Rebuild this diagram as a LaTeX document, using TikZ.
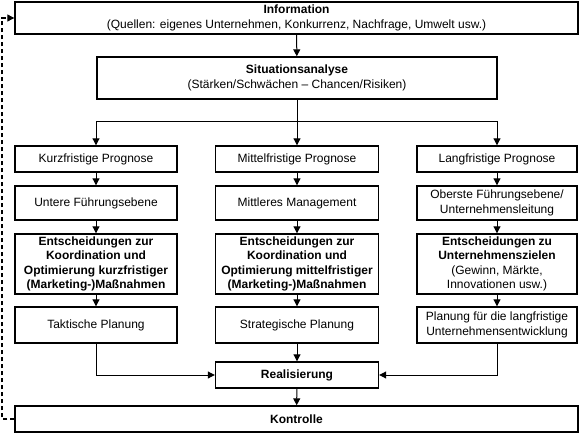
\documentclass[tikz,border=0pt]{standalone}
\usepackage{fontspec}
\setmainfont{Liberation Sans}
\usetikzlibrary{arrows.meta}
\tikzset{
  box/.style={draw, line width=1.4pt, inner sep=0pt, align=center,
    font=\fontsize{12}{14.5}\selectfont},
  conn/.style={line width=1pt, -{Triangle[length=7pt,width=7pt]}},
  plain/.style={line width=1pt},
  feedback/.style={line width=1.2pt, dash pattern=on 4pt off 3pt, -{Triangle[length=7pt,width=7pt]}}
}
\begin{document}
\begin{tikzpicture}[x=1pt,y=-1pt]
\useasboundingbox (0,0) rectangle (581,433);
\node[box, minimum width=563pt, minimum height=32pt] (info) at (296.5,18)
  {\textbf{Information}\\(Quellen: eigenes Unternehmen, Konkurrenz, Nachfrage, Umwelt usw.)};
\node[box, minimum width=400pt, minimum height=42pt] (situ) at (297,78)
  {\textbf{Situationsanalyse}\\(Stärken/Schwächen -- Chancen/Risiken)};
\coordinate (br) at (297,122);
% left column
\node[box, minimum width=162pt, minimum height=26pt] (k1) at (96,159) {Kurzfristige Prognose};
\node[box, minimum width=162pt, minimum height=34pt] (k2) at (96,203) {Untere Führungsebene};
\node[box, minimum width=162pt, minimum height=60pt] (k3) at (96,264)
  {\textbf{Entscheidungen zur}\\\textbf{Koordination und}\\\textbf{Optimierung kurzfristiger}\\\textbf{(Marketing-)Maßnahmen}};
\node[box, minimum width=162pt, minimum height=36pt] (k4) at (96,325) {Taktische Planung};
% middle column
\node[box, minimum width=163pt, minimum height=26pt] (m1) at (297,159) {Mittelfristige Prognose};
\node[box, minimum width=163pt, minimum height=34pt] (m2) at (297,203) {Mittleres Management};
\node[box, minimum width=163pt, minimum height=60pt] (m3) at (297,264)
  {\textbf{Entscheidungen zur}\\\textbf{Koordination und}\\\textbf{Optimierung mittelfristiger}\\\textbf{(Marketing-)Maßnahmen}};
\node[box, minimum width=163pt, minimum height=36pt] (m4) at (297,325) {Strategische Planung};
% right column
\node[box, minimum width=160pt, minimum height=26pt] (l1) at (497,159) {Langfristige Prognose};
\node[box, minimum width=160pt, minimum height=34pt] (l2) at (497,203) {Oberste Führungsebene/\\Unternehmensleitung};
\node[box, minimum width=160pt, minimum height=60pt] (l3) at (497,264)
  {\textbf{Entscheidungen zu}\\\textbf{Unternehmenszielen}\\(Gewinn, Märkte,\\Innovationen usw.)};
\node[box, minimum width=160pt, minimum height=36pt] (l4) at (497,325) {Planung für die langfristige\\Unternehmensentwicklung};
% bottom
\node[box, minimum width=163pt, minimum height=26pt] (real) at (297,375) {\textbf{Realisierung}};
\node[box, minimum width=563pt, minimum height=26pt] (kont) at (296.5,419) {\textbf{Kontrolle}};
\coordinate (fb) at (2,419);
% connectors
\draw[conn] (info) -- (situ);
\draw[plain] (situ) -- (br);
\draw[conn] (br) -| (k1);
\draw[conn] (br) -- (m1);
\draw[conn] (br) -| (l1);
\draw[conn] (k1) -- (k2);
\draw[conn] (k2) -- (k3);
\draw[conn] (k3) -- (k4);
\draw[conn] (m1) -- (m2);
\draw[conn] (m2) -- (m3);
\draw[conn] (m3) -- (m4);
\draw[conn] (l1) -- (l2);
\draw[conn] (l2) -- (l3);
\draw[conn] (l3) -- (l4);
\draw[conn] (k4) |- (real);
\draw[conn] (m4) -- (real);
\draw[conn] (l4) |- (real);
\draw[conn] (real) -- (kont);
\draw[feedback] (kont.west) -- (fb) |- (info.west);
\end{tikzpicture}
\end{document}
